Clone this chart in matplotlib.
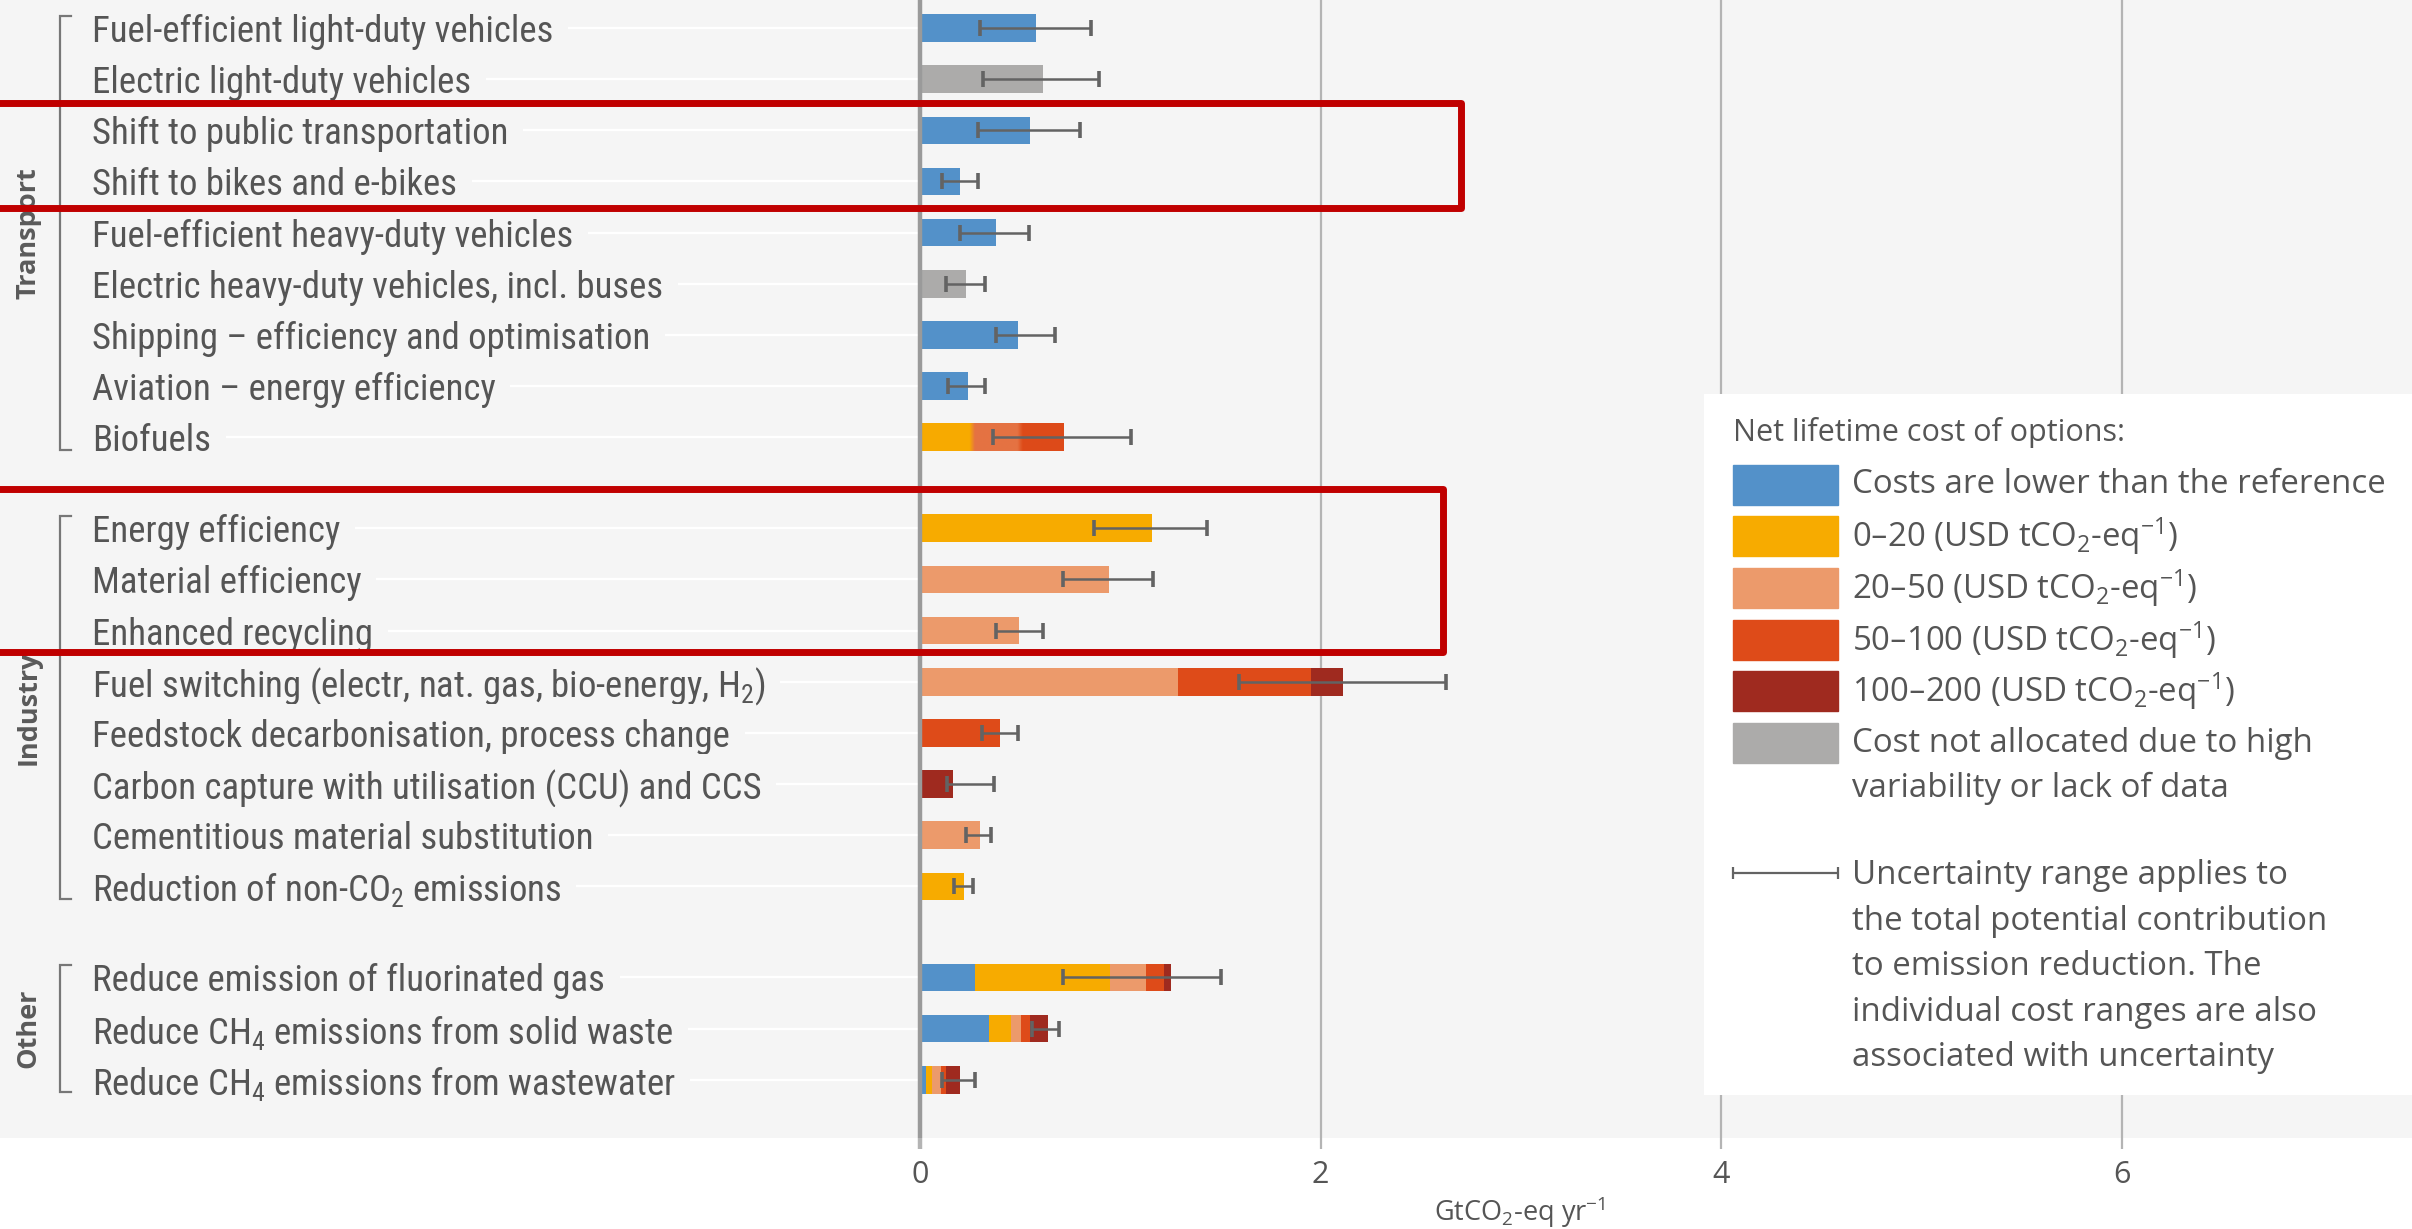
import numpy as np
import matplotlib.pyplot as plt
from matplotlib import font_manager
from matplotlib.patches import Rectangle

plt.rcParams['mathtext.default'] = 'regular'

# mitigation options, top to bottom
options = [
    'Fuel-efficient light-duty vehicles',
    'Electric light-duty vehicles',
    'Shift to public transportation',
    'Shift to bikes and e-bikes',
    'Fuel-efficient heavy-duty vehicles',
    'Electric heavy-duty vehicles, incl. buses',
    'Shipping – efficiency and optimisation',
    'Aviation – energy efficiency',
    'Biofuels',
    'Energy efficiency',
    'Material efficiency',
    'Enhanced recycling',
    'Fuel switching (electr, nat. gas, bio-energy, H$_2$)',
    'Feedstock decarbonisation, process change',
    'Carbon capture with utilisation (CCU) and CCS',
    'Cementitious material substitution',
    'Reduction of non-CO$_2$ emissions',
    'Reduce emission of fluorinated gas',
    'Reduce CH$_4$ emissions from solid waste',
    'Reduce CH$_4$ emissions from wastewater',
]
groups = ['Transport', 'Industry', 'Other']
group_sizes = [9, 8, 3]

# potential (GtCO2-eq/yr) per cost class
lower_cost = [0.577, 0, 0.55, 0.20, 0.38, 0, 0.487, 0.239, 0,
              0, 0, 0, 0, 0, 0, 0, 0,
              0.275, 0.346, 0.032]
cost_0_20 = [0, 0, 0, 0, 0, 0, 0, 0, 0.26,
             1.156, 0, 0, 0, 0, 0, 0, 0.218,
             0.674, 0.107, 0.029]
cost_20_50 = [0, 0, 0, 0, 0, 0, 0, 0, 0.24,
              0, 0.944, 0.495, 1.289, 0, 0, 0.30, 0,
              0.18, 0.053, 0.042]
cost_50_100 = [0, 0, 0, 0, 0, 0, 0, 0, 0.218,
               0, 0, 0, 0.661, 0.399, 0, 0, 0,
               0.09, 0.044, 0.029]
cost_100_200 = [0, 0, 0, 0, 0, 0, 0, 0, 0,
                0, 0, 0, 0.161, 0, 0.166, 0, 0,
                0.036, 0.09, 0.068]
not_allocated = [0, 0.615, 0, 0, 0, 0.229, 0, 0, 0,
                 0, 0, 0, 0, 0, 0, 0, 0,
                 0, 0, 0]

# uncertainty range of the total
range_low = [0.30, 0.317, 0.292, 0.111, 0.20, 0.13, 0.38, 0.139, 0.365,
             0.869, 0.714, 0.38, 1.591, 0.308, 0.134, 0.229, 0.17,
             0.714, 0.558, 0.111]
range_high = [0.856, 0.896, 0.80, 0.292, 0.546, 0.327, 0.674, 0.327, 1.056,
              1.433, 1.165, 0.615, 2.628, 0.487, 0.372, 0.357, 0.266,
              1.505, 0.693, 0.275]

xticks = [0, 2, 4, 6]

cost_classes = [lower_cost, cost_0_20, cost_20_50, cost_50_100, cost_100_200, not_allocated]
class_colors = ['#5391c9', '#f7ab00', '#ec9a6b', '#de4b19', '#9f2a1f', '#acabaa']
class_labels = ['Costs are lower than the reference',
                '0–20 (USD tCO$_2$-eq$^{-1}$)',
                '20–50 (USD tCO$_2$-eq$^{-1}$)',
                '50–100 (USD tCO$_2$-eq$^{-1}$)',
                '100–200 (USD tCO$_2$-eq$^{-1}$)',
                'Cost not allocated due to high\nvariability or lack of data']
range_note = ['Uncertainty range applies to', 'the total potential contribution',
              'to emission reduction. The', 'individual cost ranges are also',
              'associated with uncertainty']

# a narrow face for the option names, if one is installed
installed = {f.name for f in font_manager.fontManager.ttflist}
narrow = [n for n in ['Roboto Condensed', 'Liberation Sans Narrow', 'Open Sans Condensed',
                      'Noto Sans Condensed', 'DejaVu Sans Condensed'] if n in installed]
label_font = narrow + ['DejaVu Sans']
label_stretch = 'normal' if narrow else 'condensed'
text_font = ['Open Sans', 'DejaVu Sans']
grey_text = '#555555'
bg = '#f5f5f5'

# row positions with a gap between sectors
gap = 0.78
ypos = []
start = 0.0
for n in group_sizes:
    ypos.extend(start + np.arange(n))
    start = ypos[-1] + 1 + gap
ypos = np.array(ypos)

fig = plt.figure(figsize=(24.12, 12.29), dpi=100)
ax = fig.add_axes([0, 0.074, 1, 0.926])
ax.set_facecolor(bg)
for s in ax.spines.values():
    s.set_visible(False)

# vertical grid and zero line
for t in xticks[1:]:
    ax.axvline(t, color='#b4b4b4', lw=1.6, zorder=1)
ax.axvline(0, color='#9a9a9a', lw=3.2, zorder=5)

label_x = -4.134
ax.hlines(ypos, label_x, 0, color='white', lw=1.6, zorder=1)

# stacked bars
bar_h = 0.54
left = np.zeros(len(options))
for vals, col in zip(cost_classes, class_colors):
    vals = np.array(vals)
    ax.barh(ypos, vals, left=left, height=bar_h, color=col, zorder=3)
    left += vals

# biofuels: cost classes fade into each other
bio = options.index('Biofuels')
edges = np.cumsum([0] + [c[bio] for c in cost_classes])
xs = np.linspace(0, edges[-1], 400)
rgb = np.array([plt.matplotlib.colors.to_rgb(c) for c in class_colors])
mid = (rgb[2] + rgb[3]) / 2
seg_cols = {1: rgb[1], 2: mid, 3: rgb[3]}
cols = np.array([seg_cols[min(max(np.searchsorted(edges, x, side='right') - 1, 1), 3)] for x in xs])
k = np.ones(15) / 15
smooth = np.stack([np.convolve(np.pad(cols[:, i], 7, mode='edge'), k, mode='valid') for i in range(3)], axis=1)
ax.imshow(smooth[np.newaxis, :, :], extent=(0, edges[-1], ypos[bio] + bar_h / 2, ypos[bio] - bar_h / 2),
          aspect='auto', zorder=3.5, interpolation='bilinear')
ax.set_ylim(ypos[-1] + 1.14, -0.548)
ax.set_xlim(-4.593, 7.449)

# uncertainty ranges
lo = np.array(range_low)
hi = np.array(range_high)
ax.errorbar((lo + hi) / 2, ypos, xerr=(hi - lo) / 2, fmt='none', ecolor='#636363',
            elinewidth=1.8, capsize=5.5, capthick=2.6, zorder=6)

# option labels
for y, name in zip(ypos, options):
    ax.text(label_x, y, name, ha='left', va='center_baseline', fontsize=26.5, color=grey_text,
            family=label_font, fontstretch=label_stretch, zorder=2,
            bbox=dict(boxstyle='square,pad=0.4', fc=bg, ec='none'))

# sector brackets
i0 = 0
for g, n in zip(groups, group_sizes):
    y_top = ypos[i0] - 0.24
    y_bot = ypos[i0 + n - 1] + 0.24
    ax.plot([-4.24, -4.294, -4.294, -4.24], [y_top, y_top, y_bot, y_bot],
            color='#777777', lw=1.6, zorder=2, solid_joinstyle='miter')
    ax.text(-4.45, (ypos[i0] + ypos[i0 + n - 1]) / 2, g, rotation=90, ha='center', va='center',
            fontsize=19.5, fontweight='bold', color='#5a5a5a', family=text_font)
    i0 += n

# highlighted options
for first, last, top, bot, right in [(2, 3, 0.53, 0.51, 2.70), (9, 11, 0.77, 0.42, 2.61)]:
    ax.add_patch(Rectangle((-5, ypos[first] - top), right + 5, ypos[last] + bot - ypos[first] + top,
                           fill=False, ec='#c00000', lw=5, joinstyle='round', zorder=8))

ax.set_yticks([])
ax.set_xticks(xticks)
ax.set_xticklabels([str(t) for t in xticks], fontsize=22, color=grey_text, family=text_font)
ax.tick_params(axis='x', length=8, width=1.6, color='#b4b4b4', pad=8)
ax.xaxis.get_major_ticks()[0].tick1line.set_markeredgewidth(3.2)
ax.xaxis.get_major_ticks()[0].tick1line.set_color('#9a9a9a')
fig.text(1520 / 2412, 1 - 1212 / 1229, 'GtCO$_2$-eq yr$^{-1}$', ha='center', va='center',
         fontsize=19.5, color=grey_text, family=text_font)

# legend panel
lg = fig.add_axes([1704 / 2412, 1 - 1095 / 1229, 708 / 2412, 701 / 1229])
lg.set_facecolor('white')
lg.set_xlim(0, 708)
lg.set_ylim(701, 0)
lg.set_xticks([])
lg.set_yticks([])
for s in lg.spines.values():
    s.set_visible(False)
lg.set_zorder(10)

fs = 23.8
lg.text(29, 38, 'Net lifetime cost of options:', ha='left', va='center', fontsize=22,
        color=grey_text, family=text_font)
for i, (col, lab) in enumerate(zip(class_colors, class_labels)):
    yc = 90.5 + i * 51.7
    lg.add_patch(Rectangle((29, yc - 20), 105, 40, color=col))
    for j, line in enumerate(lab.split('\n')):
        lg.text(148, yc + j * 45.5, line, ha='left', va='center',
                fontsize=fs, color=grey_text, family=text_font)
lg.errorbar([81.5], [479], xerr=[52.5], fmt='none', ecolor='#636363', elinewidth=1.6,
            capsize=4, capthick=1.6)
for j, line in enumerate(range_note):
    lg.text(148, 482 + j * 45.4, line, ha='left', va='center',
            fontsize=fs, color=grey_text, family=text_font)

fig.savefig('out.png', dpi=100, facecolor='white')
